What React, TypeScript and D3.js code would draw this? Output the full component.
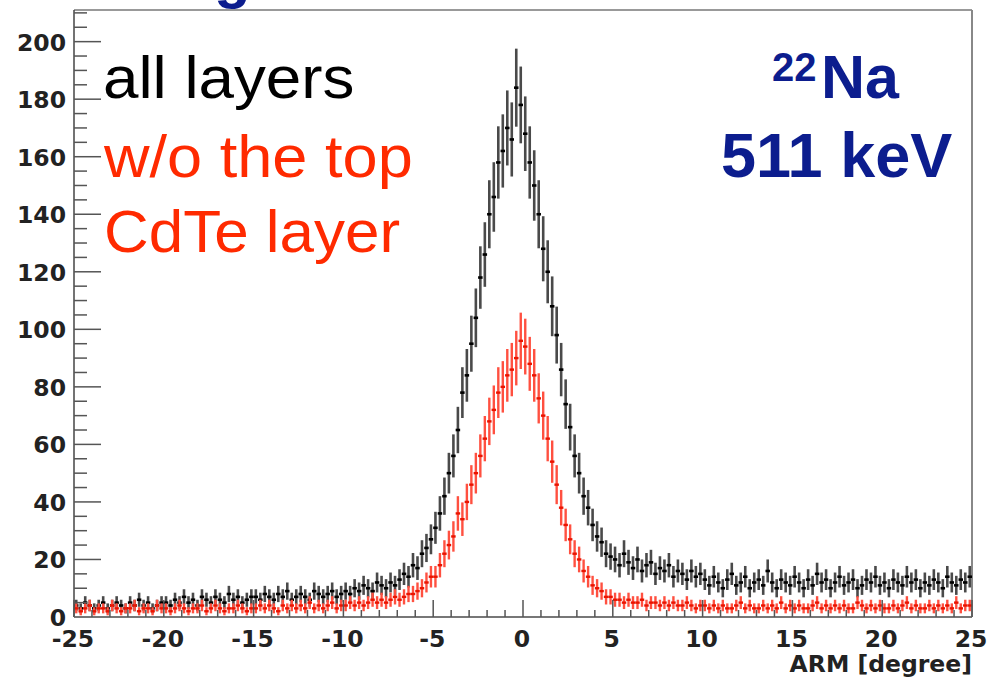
import React from "react";
import * as d3 from "d3";

// ---- data ----
const X_MIN = -25;
const X_MAX = 25;
const BIN_WIDTH = 0.25;
const Y_MAX = 211;

const yTicks = [0, 20, 40, 60, 80, 100, 120, 140, 160, 180, 200];
const xTicks = [-25, -20, -15, -10, -5, 0, 5, 10, 15, 20, 25];

// counts per bin, all layers (black)
const allLayers = [
  4, 3, 5, 4, 3, 4, 5, 3, 4, 5, 4, 3, 5, 4, 6, 4, 5, 3, 4, 5,
  5, 4, 6, 5, 7, 5, 6, 4, 7, 6, 5, 7, 6, 5, 8, 6, 7, 5, 6, 7,
  7, 6, 8, 7, 6, 8, 7, 9, 6, 7, 8, 7, 6, 9, 8, 7, 8, 9, 7, 8,
  9, 8, 10, 9, 11, 10, 9, 12, 11, 10, 12, 11,
  13, 15, 14, 18, 17, 22, 24, 27,
  31, 36, 42, 50, 56, 65, 78, 84, 95, 104, 118, 126, 140, 146, 158, 162, 170, 166, 184, 178,
  168, 158, 150, 140, 128, 120, 108, 98, 86, 74, 66, 56, 50, 42, 38, 32, 28, 26, 22, 21,
  20, 18, 22, 19, 17, 20, 16, 18, 19, 15, 17, 16, 18, 14, 16, 15, 13, 16, 14, 15,
  13, 11, 14, 12, 10, 13, 15, 11, 12, 14, 10, 12, 13, 11, 16, 12, 10, 13, 12, 11,
  14, 12, 10, 13, 11, 15, 12, 13, 10, 12, 14, 11, 12, 13, 10, 11, 13, 12, 14, 11,
  12, 10, 13, 12, 11, 14, 12, 13, 10, 12, 11, 13, 12, 10, 14, 12, 11, 13, 12, 14,
];

// counts per bin, without the top CdTe layer (red)
const withoutTop = [
  3, 2, 3, 4, 2, 3, 3, 2, 4, 3, 2, 3, 3, 4, 2, 3, 3, 2, 4, 3,
  3, 2, 3, 4, 3, 2, 3, 3, 4, 2, 3, 4, 3, 2, 3, 3, 4, 3, 2, 3,
  3, 4, 3, 4, 3, 2, 4, 3, 4, 3, 4, 3, 5, 3, 4, 3, 4, 5, 3, 4,
  4, 5, 4, 5, 4, 5, 6, 5, 6, 5, 6, 7,
  6, 7, 8, 8, 9, 10, 12, 14,
  14, 18, 22, 25, 28, 36, 34, 40, 46, 50, 56, 62, 68, 72, 78, 80, 84, 86, 90, 96,
  94, 88, 84, 76, 70, 62, 54, 46, 38, 32, 27, 22, 20, 16, 14, 11, 10, 9, 7, 7,
  6, 6, 5, 6, 5, 5, 6, 4, 5, 5, 4, 5, 4, 5, 4, 4, 5, 4, 3, 4,
  4, 3, 4, 3, 4, 3, 3, 4, 5, 3, 4, 3, 3, 4, 3, 4, 3, 5, 3, 4,
  3, 4, 3, 3, 4, 5, 3, 4, 3, 4, 3, 4, 3, 3, 5, 4, 3, 4, 3, 4,
  3, 3, 4, 3, 4, 5, 3, 4, 3, 3, 4, 3, 4, 3, 4, 3, 5, 3, 4, 4,
];

// ---- layout ----
const W = 993;
const H = 684;
const L = 74;
const R = 972;
const T = 10;
const B = 617;

const NAVY = "#0c1d8e";
const RED = "#ff2a00";

function Histo({ data, x, y, barColor, valColor, bw, vw }: any) {
  const half = (x(BIN_WIDTH) - x(0)) / 2;
  return (
    <g>
      {data.map((v: number, i: number) => {
        const c = X_MIN + BIN_WIDTH * (i + 0.5);
        const e = Math.sqrt(v);
        const cx = x(c);
        return (
          <g key={i}>
            <line x1={cx} x2={cx} y1={y(v + e)} y2={y(Math.max(0, v - e))} stroke={barColor} strokeWidth={bw} />
            <line x1={cx - half} x2={cx + half} y1={y(v)} y2={y(v)} stroke={valColor} strokeWidth={vw} />
          </g>
        );
      })}
    </g>
  );
}

function WideText({ x, y, k, children, ...rest }: any) {
  return (
    <text transform={`translate(${x},${y}) scale(${k},1)`} {...rest}>
      {children}
    </text>
  );
}

export default function App() {
  const x = d3.scaleLinear().domain([X_MIN, X_MAX]).range([L, R]);
  const y = d3.scaleLinear().domain([0, Y_MAX]).range([B, T]);

  const yMinor = d3.range(0, Y_MAX, 5);
  const xMinor = d3.range(X_MIN, X_MAX + 0.001, 1);

  const tickFont = "'DejaVu Sans', sans-serif";
  const textFont = "'Liberation Sans', Arial, sans-serif";

  return (
    <div style={{ position: "absolute", left: 0, top: 0 }}>
      <svg width={W} height={H} style={{ display: "block", background: "#fff" }}>
        {/* partially visible title */}
        <text x={134} y={-3} fontFamily={textFont} fontWeight="bold" fontSize={60} fill={NAVY}>
          Angular resolution
        </text>

        {/* frame */}
        <line x1={L} x2={R} y1={T} y2={T} stroke="#999" strokeWidth={2} />
        <line x1={R} x2={R} y1={T} y2={B} stroke="#888" strokeWidth={2} />

        {/* histograms */}
        <Histo data={allLayers} x={x} y={y} barColor="#4a4a4a" valColor="#000" bw={2.6} vw={2.6} />
        <Histo data={withoutTop} x={x} y={y} barColor="#ff5040" valColor="#ea1400" bw={2.4} vw={2.4} />

        {/* y axis */}
        <line x1={L} x2={L} y1={T} y2={B} stroke="#444" strokeWidth={1.5} />
        {yMinor.map((v) => (
          <line key={"ym" + v} x1={L} x2={L + (v % 20 === 0 ? 27 : 13)} y1={y(v)} y2={y(v)} stroke="#555" strokeWidth={1.5} />
        ))}
        {yTicks.map((v) => (
          <text key={"yt" + v} x={66} y={y(v) + 9} textAnchor="end" fontFamily={tickFont} fontWeight="bold" fontSize={23.5} fill="#222">
            {v}
          </text>
        ))}

        {/* x axis */}
        <line x1={L} x2={R} y1={B} y2={B} stroke="#777" strokeWidth={2} />
        {xMinor.map((v) => (
          <line key={"xm" + v} x1={x(v)} x2={x(v)} y1={B} y2={B - (v % 5 === 0 ? 17 : 7)} stroke="#555" strokeWidth={1.5} />
        ))}
        {xTicks.map((v) => (
          <text key={"xt" + v} x={x(v) - 1} y={647} textAnchor="middle" fontFamily={tickFont} fontWeight="bold" fontSize={23.5} fill="#222">
            {v}
          </text>
        ))}
        <text x={972} y={672} textAnchor="end" fontFamily={tickFont} fontWeight="bold" fontSize={23.5} fill="#222">
          ARM [degree]
        </text>

        {/* legend text */}
        <WideText x={103} y={98} k={1.08} fontFamily={textFont} fontSize={59} fill="#000">all layers</WideText>
        <WideText x={104} y={177} k={1.07} fontFamily={textFont} fontSize={59} fill={RED}>w/o the top</WideText>
        <WideText x={104} y={252} k={1.05} fontFamily={textFont} fontSize={59} fill={RED}>CdTe layer</WideText>

        {/* source label */}
        <text x={772} y={81} fontFamily={textFont} fontWeight="bold" fontSize={40} fill={NAVY}>22</text>
        <text x={821} y={98} fontFamily={textFont} fontWeight="bold" fontSize={61} fill={NAVY}>Na</text>
        <text x={721} y={177} fontFamily={textFont} fontWeight="bold" fontSize={63} fill={NAVY}>511 keV</text>
      </svg>
    </div>
  );
}
